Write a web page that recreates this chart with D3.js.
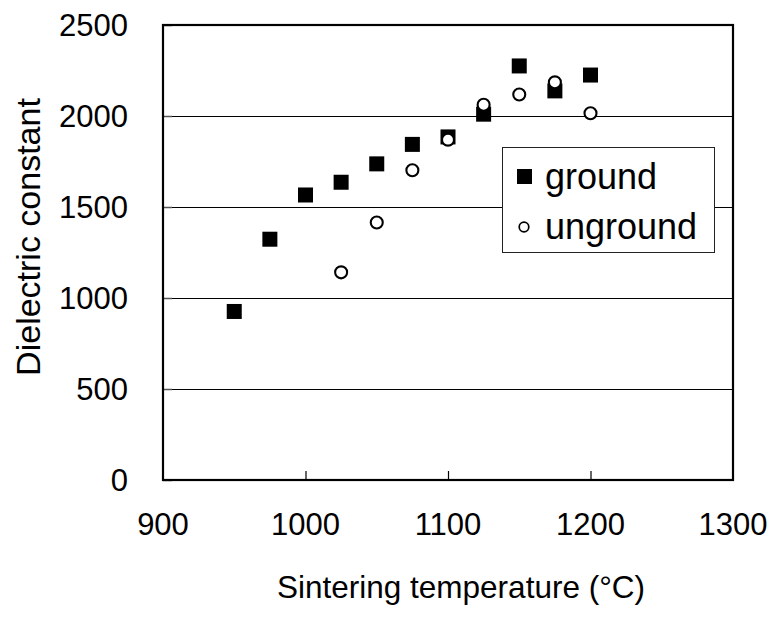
<!DOCTYPE html>
<html>
<head>
<meta charset="utf-8">
<script src="https://cdn.jsdelivr.net/npm/d3@7"></script>
<style>
  html, body { margin: 0; padding: 0; background: #fff; }
  svg text { font-family: "Liberation Sans", Arial, sans-serif; fill: #000; }
</style>
</head>
<body>
<svg id="chart" width="771" height="617"></svg>
<script>
// ---- data ----
const groundTemps   = [950, 975, 1000, 1025, 1050, 1075, 1100, 1125, 1150, 1175, 1200];
const groundValues  = [926, 1323, 1566, 1636, 1737, 1844, 1885, 2010, 2275, 2138, 2225];
const ungroundTemps  = [1025, 1050, 1075, 1100, 1125, 1150, 1175, 1200];
const ungroundValues = [1141, 1415, 1702, 1870, 2062, 2118, 2185, 2015];
const xTicks = [900, 1000, 1100, 1200, 1300];
const yTicks = [0, 500, 1000, 1500, 2000, 2500];
const seriesNames = ["ground", "unground"];

(function () {
const svg = d3.select("#chart");
const pL = 163, pR = 733, pT = 25, pB = 480;

const x = d3.scaleLinear().domain([900, 1300]).range([pL, pR]);
const y = d3.scaleLinear().domain([0, 2500]).range([pB, pT]);

// gridlines
svg.append("g").selectAll("line")
  .data(yTicks.filter(d => d > 0 && d < 2500))
  .join("line")
  .attr("x1", pL).attr("x2", pR)
  .attr("y1", d => Math.round(y(d)) + 0.5).attr("y2", d => Math.round(y(d)) + 0.5)
  .attr("stroke", "#000").attr("stroke-width", 1);

// x axis (inner ticks)
const xAxis = d3.axisTop(x).tickValues(xTicks.slice(1, -1)).tickSize(9).tickFormat("");
const gx = svg.append("g").attr("transform", `translate(0,${pB})`).call(xAxis);
gx.select(".domain").remove();
gx.selectAll("line").attr("stroke", "#000").attr("stroke-width", 1.2);

// x tick labels
svg.append("g").selectAll("text")
  .data(xTicks).join("text")
  .attr("x", d => x(d)).attr("y", 535)
  .attr("text-anchor", "middle")
  .style("font-size", "31px")
  .text(d => d);

// y axis ticks inward
const yAxis = d3.axisRight(y).tickValues(yTicks).tickSize(9).tickFormat("");
const gy = svg.append("g").attr("transform", `translate(${pL},0)`).call(yAxis);
gy.select(".domain").remove();
gy.selectAll("line").attr("stroke", "#555").attr("stroke-width", 1.5);

// y tick labels
svg.append("g").selectAll("text")
  .data(yTicks).join("text")
  .attr("x", 128).attr("y", d => y(d) + 11)
  .attr("text-anchor", "end")
  .style("font-size", "31px")
  .text(d => d);

// frame
svg.append("rect")
  .attr("x", pL).attr("y", pT)
  .attr("width", pR - pL).attr("height", pB - pT)
  .attr("fill", "none").attr("stroke", "#000").attr("stroke-width", 2.2);

// ground squares
const sq = 15;
svg.append("g").selectAll("rect")
  .data(groundTemps.map((t, i) => [t, groundValues[i]]))
  .join("rect")
  .attr("x", d => x(d[0]) - sq / 2).attr("y", d => y(d[1]) - sq / 2)
  .attr("width", sq).attr("height", sq)
  .attr("fill", "#000");

// unground circles
svg.append("g").selectAll("circle")
  .data(ungroundTemps.map((t, i) => [t, ungroundValues[i]]))
  .join("circle")
  .attr("cx", d => x(d[0])).attr("cy", d => y(d[1]))
  .attr("r", 6)
  .attr("fill", "#fff").attr("stroke", "#000").attr("stroke-width", 2.1);

// legend
const lg = svg.append("g");
lg.append("rect")
  .attr("x", 502.5).attr("y", 147.5).attr("width", 212).attr("height", 105)
  .attr("fill", "#fff").attr("stroke", "#222").attr("stroke-width", 1);
lg.append("rect").attr("x", 517).attr("y", 169).attr("width", 15).attr("height", 15).attr("fill", "#000");
lg.append("circle").attr("cx", 524).attr("cy", 227).attr("r", 4.8)
  .attr("fill", "#fff").attr("stroke", "#000").attr("stroke-width", 1.7);
lg.append("text").attr("x", 545).attr("y", 189).style("font-size", "36px").text(seriesNames[0]);
lg.append("text").attr("x", 545).attr("y", 239).style("font-size", "36px").text(seriesNames[1]);

// axis titles
svg.append("text")
  .attr("x", 461).attr("y", 598)
  .attr("text-anchor", "middle")
  .style("font-size", "31.5px")
  .text("Sintering temperature (°C)");

svg.append("text")
  .attr("transform", "translate(40,237) rotate(-90)")
  .attr("text-anchor", "middle")
  .style("font-size", "34px")
  .text("Dielectric constant");
})();
</script>
</body>
</html>
